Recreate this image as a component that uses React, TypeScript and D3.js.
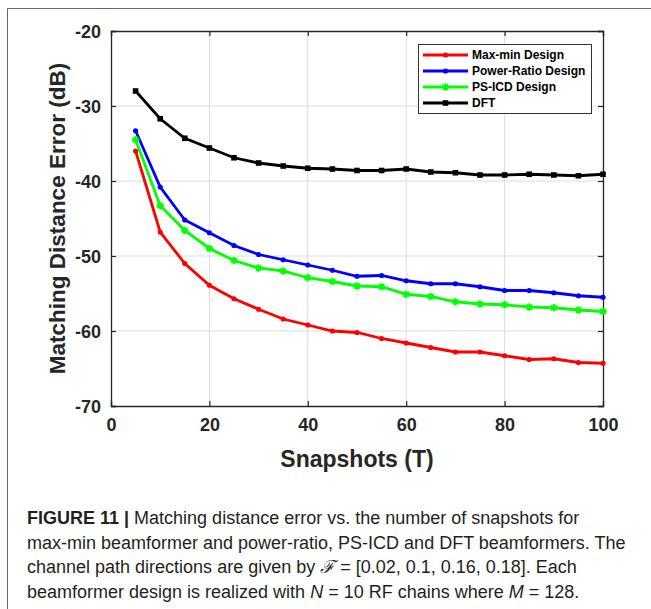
import React, { useEffect, useRef } from "react";
import * as d3 from "d3";

const snapshots = [5, 10, 15, 20, 25, 30, 35, 40, 45, 50, 55, 60, 65, 70, 75, 80, 85, 90, 95, 100];

const maxMin = [-36.0, -46.8, -51.0, -53.9, -55.7, -57.1, -58.4, -59.2, -60.0, -60.2, -61.0, -61.6, -62.2, -62.8, -62.8, -63.3, -63.8, -63.7, -64.2, -64.3];
const powerRatio = [-33.3, -40.8, -45.2, -46.9, -48.6, -49.8, -50.5, -51.2, -51.9, -52.7, -52.6, -53.3, -53.7, -53.7, -54.1, -54.6, -54.6, -54.9, -55.3, -55.5];
const psIcd = [-34.5, -43.3, -46.6, -49.0, -50.6, -51.6, -52.0, -52.9, -53.4, -54.0, -54.1, -55.1, -55.4, -56.1, -56.4, -56.5, -56.8, -56.9, -57.2, -57.4];
const dft = [-28.0, -31.7, -34.3, -35.6, -36.9, -37.6, -38.0, -38.3, -38.4, -38.6, -38.6, -38.4, -38.8, -38.9, -39.2, -39.2, -39.1, -39.2, -39.3, -39.1];

const seriesNames = ["Max-min Design", "Power-Ratio Design", "PS-ICD Design", "DFT"];
const xTicks = [0, 20, 40, 60, 80, 100];
const yTicks = [-20, -30, -40, -50, -60, -70];

const App = () => {
  const gRef = useRef<SVGGElement>(null);

  useEffect(() => {
    drawChart();
  }, []);

  const drawChart = () => {
    const margin = { top: 31, left: 111 };
    const width = 492;
    const height = 375;

    const root = d3.select(gRef.current);
    root.selectAll("*").remove();

    const svg = root.append("g").attr("transform", `translate(${margin.left},${margin.top})`);

    const xScale = d3.scaleLinear().domain([0, 100]).range([0, width]);
    const yScale = d3.scaleLinear().domain([-70, -20]).range([height, 0]);

    // grid
    svg
      .selectAll(".gx")
      .data(xTicks.slice(1, -1))
      .enter()
      .append("line")
      .attr("x1", (d) => xScale(d))
      .attr("x2", (d) => xScale(d))
      .attr("y1", 0)
      .attr("y2", height)
      .attr("stroke", "#dcdcdc")
      .attr("stroke-width", 1);
    svg
      .selectAll(".gy")
      .data(yTicks.slice(1, -1))
      .enter()
      .append("line")
      .attr("y1", (d) => yScale(d))
      .attr("y2", (d) => yScale(d))
      .attr("x1", 0)
      .attr("x2", width)
      .attr("stroke", "#dcdcdc")
      .attr("stroke-width", 1);

    const tickColor = "#262626";
    const font = "Arial, 'Liberation Sans', Helvetica, sans-serif";
    const fmt = (d: any) => String(d);

    // axes: bottom/left with labels, top/right without
    const bottom = svg
      .append("g")
      .attr("transform", `translate(0,${height})`)
      .call(d3.axisBottom(xScale).tickValues(xTicks).tickSize(-5).tickPadding(12).tickFormat(fmt));
    const left = svg
      .append("g")
      .call(d3.axisLeft(yScale).tickValues(yTicks).tickSize(-5).tickPadding(10).tickFormat(fmt));
    svg.append("g").call(d3.axisTop(xScale).tickValues(xTicks).tickSize(-5).tickFormat(() => ""));
    svg
      .append("g")
      .attr("transform", `translate(${width},0)`)
      .call(d3.axisRight(yScale).tickValues(yTicks).tickSize(-5).tickFormat(() => ""));

    svg.selectAll(".domain").attr("stroke", tickColor).attr("stroke-width", 1.3);
    svg.selectAll(".tick line").attr("stroke", tickColor).attr("stroke-width", 1.2);
    [bottom, left].forEach((g) =>
      g
        .selectAll("text")
        .attr("fill", tickColor)
        .style("font-family", font)
        .style("font-weight", "bold")
        .style("font-size", "18px")
    );
    left.selectAll("text").attr("dy", "0.36em");

    // lines
    const allSeries = [
      { name: seriesNames[0], values: maxMin, color: "#ff0000", marker: "dot" },
      { name: seriesNames[1], values: powerRatio, color: "#0000ff", marker: "dot" },
      { name: seriesNames[2], values: psIcd, color: "#00ff00", marker: "star" },
      { name: seriesNames[3], values: dft, color: "#000000", marker: "square" },
    ];

    const line = d3
      .line<number>()
      .x((_, i) => xScale(snapshots[i]))
      .y((d) => yScale(d));

    const drawMarker = (g: any, x: number, y: number, color: string, marker: string) => {
      if (marker === "dot") {
        g.append("circle").attr("cx", x).attr("cy", y).attr("r", 2.6).attr("fill", color);
      } else if (marker === "square") {
        g.append("rect")
          .attr("x", x - 2.8)
          .attr("y", y - 2.8)
          .attr("width", 5.6)
          .attr("height", 5.6)
          .attr("fill", color);
      } else {
        const s = 3.8;
        g.append("path")
          .attr("d", `M${x - s},${y}H${x + s}M${x},${y - s}V${y + s}M${x - 2.7},${y - 2.7}L${x + 2.7},${y + 2.7}M${x - 2.7},${y + 2.7}L${x + 2.7},${y - 2.7}`)
          .attr("stroke", color)
          .attr("stroke-width", 1.8);
      }
    };

    allSeries.forEach((s) => {
      svg
        .append("path")
        .datum(s.values)
        .attr("d", line)
        .attr("fill", "none")
        .attr("stroke", s.color)
        .attr("stroke-width", 2.8);
      const mg = svg.append("g");
      s.values.forEach((v, i) => drawMarker(mg, xScale(snapshots[i]), yScale(v), s.color, s.marker));
    });

    // legend
    const lg = root.append("g").attr("transform", "translate(418,44)");
    lg.append("rect")
      .attr("x", 0.5)
      .attr("y", 0.5)
      .attr("width", 173)
      .attr("height", 69)
      .attr("fill", "#fff")
      .attr("stroke", "#333")
      .attr("stroke-width", 1);
    allSeries.forEach((s, i) => {
      const y = 11 + i * 16;
      lg.append("line")
        .attr("x1", 5)
        .attr("x2", 50)
        .attr("y1", y)
        .attr("y2", y)
        .attr("stroke", s.color)
        .attr("stroke-width", 2.8);
      drawMarker(lg, 27.5, y, s.color, s.marker);
      lg.append("text")
        .attr("x", 54)
        .attr("y", y)
        .attr("dy", "0.36em")
        .style("font-family", font)
        .style("font-weight", "bold")
        .style("font-size", "12px")
        .attr("fill", "#000")
        .text(s.name);
    });

    // axis labels
    root
      .append("text")
      .attr("x", margin.left + width / 2)
      .attr("y", 467)
      .attr("text-anchor", "middle")
      .style("font-family", font)
      .style("font-weight", "bold")
      .style("font-size", "23px")
      .attr("fill", tickColor)
      .text("Snapshots (T)");

    root
      .append("text")
      .attr("transform", `translate(65,${margin.top + height / 2}) rotate(-90)`)
      .attr("text-anchor", "middle")
      .style("font-family", font)
      .style("font-weight", "bold")
      .style("font-size", "22.5px")
      .attr("fill", tickColor)
      .text("Matching Distance Error (dB)");
  };

  const capFont = "'Liberation Sans Narrow', 'Arial Narrow', Arial, sans-serif";

  return (
    <svg width={651} height={609} style={{ position: "absolute", left: 0, top: 0 }}>
      {/* figure frame (top and left edges) */}
      <path d="M7.5,609 V8.5 H651" fill="none" stroke="#666" strokeWidth={1} />
      <g ref={gRef} />
      <g style={{ fontFamily: capFont, fontSize: "18px" }} fill="#231f20">
        <text x={27} y={524}>
          <tspan fontWeight="bold">FIGURE 11 | </tspan>
          Matching distance error vs. the number of snapshots for
        </text>
        <text x={27} y={549}>max-min beamformer and power-ratio, PS-ICD and DFT beamformers. The</text>
        <text x={27} y={573}>
          channel path directions are given by <tspan fontStyle="italic">ℱ</tspan> = [0.02, 0.1, 0.16, 0.18]. Each
        </text>
        <text x={27} y={598}>
          beamformer design is realized with <tspan fontStyle="italic">N</tspan> = 10 RF chains where{" "}
          <tspan fontStyle="italic">M</tspan> = 128.
        </text>
      </g>
    </svg>
  );
};

export default App;
